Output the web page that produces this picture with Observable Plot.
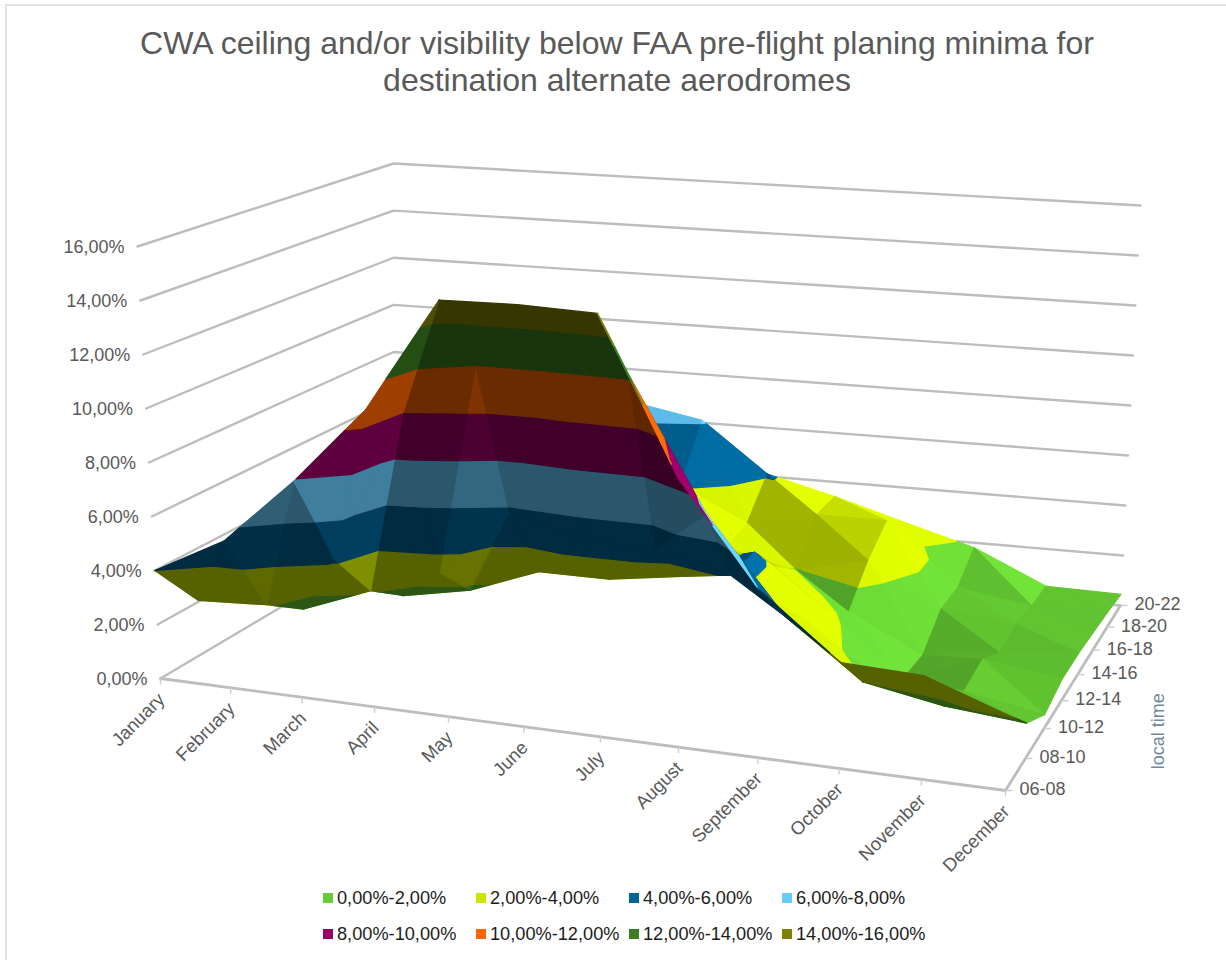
<!DOCTYPE html>
<html><head><meta charset="utf-8">
<script src="https://cdn.jsdelivr.net/npm/d3@7"></script>
<script src="https://cdn.jsdelivr.net/npm/@observablehq/plot@0.6"></script>
<style>
html,body{margin:0;padding:0;background:#fff;font-family:"Liberation Sans",Arial,sans-serif}
#page{position:relative;width:1226px;height:960px;overflow:hidden}
#frame{position:absolute;left:5px;top:4px;right:-4px;bottom:-4px;border:2px solid #e2e2e2;pointer-events:none}
#title{position:relative;height:105px;padding-top:25px;box-sizing:border-box;text-align:center;font-size:32px;line-height:37px;color:#595959;margin-left:8px}
#legend{position:absolute;left:323px;top:880px;display:grid;grid-template-columns:repeat(4,153px);grid-auto-rows:36px;font-size:18.2px;color:#1c1c1c;align-items:center}
#legend div{display:flex;align-items:center;white-space:nowrap}
#legend i{display:inline-block;width:10px;height:10px;margin-right:4px}
svg{display:block}
</style></head><body>
<div id="page">
<div id="frame"></div>
<div id="title">CWA ceiling and/or visibility below FAA pre-flight planing minima for<br>destination alternate aerodromes</div>
<div id="chart"></div>
<div id="legend"></div>
</div>
<script>
const months=["January","February","March","April","May","June","July","August","September","October","November","December"];
const hours=["06-08","08-10","10-12","12-14","14-16","16-18","18-20","20-22"];
const percentTicks=[0,2,4,6,8,10,12,14,16];
const bandLabels=["0,00%-2,00%","2,00%-4,00%","4,00%-6,00%","6,00%-8,00%","8,00%-10,00%","10,00%-12,00%","12,00%-14,00%","14,00%-16,00%"];
const bandColors=["#66cc33","#cce600","#006699","#66ccff","#990066","#ff6600","#3c7d22","#808000"];
// percent values per local-time slot, January..December
const h0608=[4.0,5.4,7.9,10.8,15.05,15.15,15.1,9.5,5.9,3.7,3.6,2.6];
const h0810=[2.05,2.2,4.2,9.9,12.0,12.3,12.2,7.4,4.05,2.0,1.5,1.25];
const h1012=[2.5,1.2,2.2,3.2,5.8,5.0,5.0,4.3,2.9,0.9,1.0,0.5];
const h1214=[3.0,1.5,1.2,1.7,2.7,2.7,3.1,4.3,2.3,0.2,1.2,0.8];
const h1416=[3.0,2.0,1.5,2.0,3.0,2.7,2.9,2.9,1.45,0.1,0.5,0.8];
const h1618=[3.0,2.5,2.5,3.0,3.5,3.0,2.6,1.95,2.6,1.0,0.7,0.7];
const h1820=[3.0,3.0,3.0,3.5,4.5,4.1,2.8,3.4,3.4,1.0,0.55,0.6];
const h2022=[3.0,3.0,3.5,4.5,6.6,6.1,4.1,3.4,2.6,1.8,0.5,0.45];
const rows=[h0608,h0810,h1012,h1214,h1416,h1618,h1820,h2022];

// the box of the 3D chart: pixel corners of its floor and of its 16% lid
const floorBox={fl:[160,678],fr:[1005,790],br:[1120,605],bl:[393,540]};
const lidBox={fl:[137,246],fr:[1020,326],br:[1140,205],bl:[393,163]};
const persp=(s,k)=>s/(1+k*(1-s));
function onBox(b,m,t){
  const gf=persp(m/11,0.105), gb=persp(m/11,0.15), w=persp(t/7,-0.205);
  const fx=b.fl[0]+(b.fr[0]-b.fl[0])*gf, fy=b.fl[1]+(b.fr[1]-b.fl[1])*gf;
  const bx=b.bl[0]+(b.br[0]-b.bl[0])*gb, by=b.bl[1]+(b.br[1]-b.bl[1])*gb;
  return [fx+(bx-fx)*w, fy+(by-fy)*w];
}
function proj(m,t,v){
  const a=onBox(floorBox,m,t), b=onBox(lidBox,m,t), f=v/16;
  return [a[0]+(b[0]-a[0])*f, a[1]+(b[1]-a[1])*f];
}
const px=d=>proj(d.m,d.t,d.v)[0], py=d=>proj(d.m,d.t,d.v)[1];

function clip(poly,val,keepAbove){
  const out=[];
  for(let i=0;i<poly.length;i++){
    const a=poly[i],b=poly[(i+1)%poly.length];
    const ia=keepAbove?a.v>=val:a.v<=val, ib=keepAbove?b.v>=val:b.v<=val;
    if(ia) out.push(a);
    if(ia!==ib){const k=(val-a.v)/(b.v-a.v); out.push({m:a.m+(b.m-a.m)*k,t:a.t+(b.t-a.t)*k,v:val});}
  }
  return out;
}
function shadeColor(hex,s){
  const c=d3.rgb(hex);
  return d3.rgb(Math.min(255,c.r*s),Math.min(255,c.g*s),Math.min(255,c.b*s)).formatHex();
}
const clamp=(x,a,b)=>Math.max(a,Math.min(b,x));
const polys=[];let pid=0;
function addTriangle(tri,dm,dt){
  const p=tri.map(d=>proj(d.m,d.t,d.v));
  const cross=(p[1][0]-p[0][0])*(p[2][1]-p[0][1])-(p[1][1]-p[0][1])*(p[2][0]-p[0][0]);
  const topSeen=cross<0;
  const s=topSeen? clamp(0.97-0.15*Math.max(0,dm)-0.07*Math.min(Math.abs(dt),1.5)+0.19*clamp((-dm-0.4)/0.4,0,1),0.74,1.12)
                 : clamp(0.42+0.2*clamp((dm-2.4)/0.5,0,1)+0.02*Math.min(0,dm+2.4),0.32,0.68);
  bandColors.forEach((col,i)=>{
    const poly=clip(clip(tri,i*2,true),(i+1)*2,false);
    if(poly.length<3) return;
    const fill=shadeColor(col,s),id=pid++;
    poly.forEach(d=>polys.push({...d,id,fill}));
  });
}
for(let t=6;t>=0;t--) for(let m=0;m<11;m++){
  const P=(mm,tt)=>({m:mm,t:tt,v:rows[tt][mm]});
  const a=P(m,t),b=P(m+1,t),c=P(m,t+1),e=P(m+1,t+1);
  addTriangle([b,e,c],e.v-c.v,e.v-b.v);
  addTriangle([a,b,c],b.v-a.v,c.v-a.v);
}
const wallLines=percentTicks.flatMap(v=>[{m:0,t:0,v,k:v},{m:0,t:7,v,k:v},{m:11,t:7,v,k:v}]);
const floorEdge=[{m:0,t:0,v:0},{m:11,t:0,v:0},{m:11,t:7,v:0}];
const grey="#bdbdbd";
const monthTicks=months.map((d,i)=>{const p=proj(i,0,0);return {x:p[0],y:p[1],y2:p[1]+6};});
const hourTicks=hours.map((d,i)=>{const p=proj(11,i,0);return {x:p[0],y:p[1],x2:p[0]+7};});
const chart=Plot.plot({
  width:1226,height:775,margin:0,
  style:{fontFamily:'"Liberation Sans",Arial,sans-serif',background:"transparent",overflow:"visible"},
  x:{domain:[0,1226],axis:null},
  y:{domain:[880,105],axis:null},
  color:{type:"identity"},
  marks:[
    Plot.line(wallLines,{x:px,y:py,z:"k",stroke:grey,strokeWidth:2.4}),
    Plot.line(floorEdge,{x:px,y:py,stroke:grey,strokeWidth:2.8}),
    Plot.link(monthTicks,{x1:"x",x2:"x",y1:"y",y2:"y2",stroke:"#d0d0d0",strokeWidth:1.5}),
    Plot.link(hourTicks,{x1:"x",x2:"x2",y1:"y",y2:"y",stroke:"#d0d0d0",strokeWidth:1.5}),
    Plot.line(polys,{x:px,y:py,z:"id",fill:"fill",stroke:"fill",strokeWidth:1.2,curve:"linear-closed"}),
    Plot.text(percentTicks,{x:v=>proj(0,0,v)[0],y:v=>proj(0,0,v)[1],text:v=>v.toFixed(2).replace(".",",")+"%",textAnchor:"end",dx:-13,dy:1,fontSize:18,fill:"#595959"}),
    Plot.text(months,{x:(d,i)=>proj(i,0,0)[0],y:(d,i)=>proj(i,0,0)[1],text:d=>d,rotate:-45,textAnchor:"end",dx:1,dy:18,fontSize:18.5,fill:"#595959"}),
    Plot.text(hours,{x:(d,i)=>proj(11,i,0)[0],y:(d,i)=>proj(11,i,0)[1],text:d=>d,textAnchor:"start",dx:14,dy:-1,fontSize:18,fill:"#595959"}),
    Plot.text(["local time"],{x:()=>proj(11,1.5,0)[0],y:()=>proj(11,1.5,0)[1],text:d=>d,rotate:-90,dx:123,dy:-12,fontSize:18,fill:"#6f8a9a"})
  ]
});
document.getElementById("chart").appendChild(chart);
const lg=document.getElementById("legend");
bandLabels.forEach((t,i)=>{const d=document.createElement("div");d.innerHTML=`<i style="background:${bandColors[i]}"></i>${t}`;lg.appendChild(d);});
</script></body></html>
